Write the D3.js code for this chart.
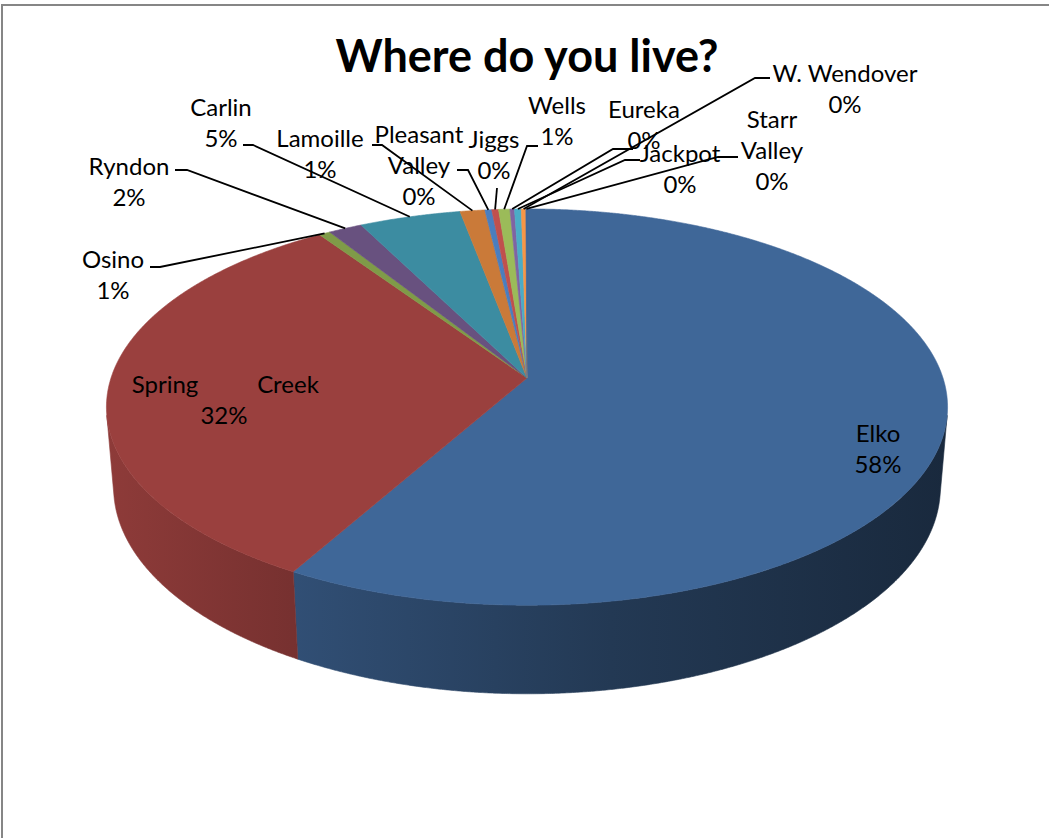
<!DOCTYPE html>
<html><head><meta charset="utf-8">
<script src="https://cdn.jsdelivr.net/npm/d3@7"></script>
<style>html,body{margin:0;padding:0;background:#fff;} svg{display:block;}</style>
</head><body>
<svg id="chart" width="1049" height="838"></svg>
<script>
// ---------- data ----------
const title = "Where do you live?";
const categories = ["Elko","Spring Creek","Osino","Ryndon","Carlin","Lamoille","Pleasant Valley","Jiggs","Wells","Eureka","Jackpot","W. Wendover","Starr Valley"];
const shares = [58.15, 32.4, 0.5, 1.5, 4.5, 1.1, 0.3, 0.3, 0.5, 0.2, 0.3, 0.2, 0.05];
const topColors = ["#3f6798","#9a403e","#7f9b48","#68517f","#3c8ca1","#ca7a39","#4a7ebf","#c0504d","#9bbb59","#8064a2","#4bacc6","#f79646","#3f6798"];

// ---------- label layout (text anchor x, first baseline y, leader attach) ----------
const labelLayout = [
  {x:878, y:442},
  {x:224, y:393, wordX:[165,288]},
  {x:113, y:268, attach:[150,267], stub:160},
  {x:129, y:175, attach:[175,170], stub:187},
  {x:221, y:116, attach:[243,145], stub:253},
  {x:320, y:147, attach:[372,145], stub:382},
  {x:419, y:143, wrap:true, attach:[457,170], stub:468},
  {x:494, y:148, attach:[497,188], stub:497},
  {x:557, y:114, attach:[538,146], stub:527},
  {x:644, y:118, attach:[633,149], stub:613},
  {x:680, y:162, attach:[640,160], stub:625},
  {x:845, y:82,  attach:[770,78],  stub:755},
  {x:772, y:128, wrap:true, attach:[738,157], stub:718}
];

// ---------- 3D projection ----------
const W = 1049, Hh = 838;
const cx = 527, cy = 378, S = 416, D = 6.03, H = 0.22;
const sa = 0.466, ca = Math.sqrt(1 - sa*sa);
function proj(phi, y){
  const x = Math.sin(phi), z = Math.cos(phi);
  const Yc = y*ca + z*sa;
  const Zc = -y*sa + z*ca + D;
  return [cx + S*D*x/Zc, cy - S*D*Yc/Zc];
}
function samples(a0, a1){
  const n = Math.max(2, Math.ceil((a1 - a0)/0.004));
  return d3.range(n + 1).map(k => a0 + (a1 - a0)*k/n);
}

const svg = d3.select("#chart");
const defs = svg.append("defs");
svg.append("rect").attr("width", W).attr("height", Hh).attr("fill", "#fff");

const total = d3.sum(shares);
const arcs = d3.pie().sort(null).value(d => d)(shares);
const phiMin = Math.acos(-1/(D*ca)), phiMax = 2*Math.PI - phiMin;
const line = d3.line();

// side walls
const shadeStops = [[0, .92], [.22, .77], [.6, .55], [1, .40]];
arcs.forEach((a, i) => {
  const a0 = Math.max(a.startAngle, phiMin), a1 = Math.min(a.endAngle, phiMax);
  if (a1 <= a0) return;
  const g = defs.append("linearGradient").attr("id", "side" + i)
    .attr("gradientUnits", "userSpaceOnUse").attr("x1", 106).attr("x2", 948).attr("y1", 0).attr("y2", 0);
  const c = d3.rgb(topColors[i]);
  shadeStops.forEach(([o, m]) => g.append("stop").attr("offset", o)
    .attr("stop-color", d3.rgb(c.r*m, c.g*m, c.b*m).formatHex()));
  const ang = samples(a0, a1);
  const pts = ang.map(p => proj(p, 0)).concat(ang.slice().reverse().map(p => proj(p, -H)));
  svg.append("path").attr("d", line(pts) + "Z").attr("fill", `url(#side${i})`)
    .attr("stroke", `url(#side${i})`).attr("stroke-width", 0.6);
});

// top faces
arcs.forEach((a, i) => {
  const pts = [[cx, cy]].concat(samples(a.startAngle, a.endAngle).map(p => proj(p, 0)));
  svg.append("path").attr("d", line(pts) + "Z").attr("fill", topColors[i])
    .attr("stroke", topColors[i]).attr("stroke-width", 0.6).attr("stroke-linejoin", "round");
});

// leader lines
arcs.forEach((a, i) => {
  const L = labelLayout[i];
  if (!L.attach) return;
  const anchor = proj((a.startAngle + a.endAngle)/2, 0);
  svg.append("path")
    .attr("d", `M${L.attach[0]},${L.attach[1]}H${L.stub}L${anchor[0]},${anchor[1]}`)
    .attr("fill", "none").attr("stroke", "#000").attr("stroke-width", 1.8);
});

// labels
const font = "Lato, 'Open Sans', sans-serif";
const lh = 31;
categories.forEach((name, i) => {
  const L = labelLayout[i];
  const pct = Math.round(shares[i]/total*100 + 1e-9) + "%";
  const g = svg.append("g").attr("font-family", font).attr("font-size", 24).attr("fill", "#000")
    .attr("text-anchor", "middle");
  let rows;
  if (L.wordX) {
    name.split(" ").forEach((w, k) => g.append("text").attr("x", L.wordX[k]).attr("y", L.y).text(w));
    rows = [pct];
    rows.forEach((r, k) => g.append("text").attr("x", L.x).attr("y", L.y + lh*(k+1)).text(r));
    return;
  }
  rows = (L.wrap ? name.split(" ") : [name]).concat([pct]);
  rows.forEach((r, k) => g.append("text").attr("x", L.x).attr("y", L.y + lh*k).text(r));
});

// title
svg.append("text").attr("x", 527).attr("y", 72).attr("text-anchor", "middle")
  .attr("font-family", font).attr("font-weight", "bold").attr("font-size", 45).attr("fill", "#000")
  .text(title);

// chart frame
svg.append("rect").attr("x", 2).attr("y", 5).attr("width", 1070).attr("height", 900)
  .attr("fill", "none").attr("stroke", "#868686").attr("stroke-width", 2);
</script>
</body></html>
